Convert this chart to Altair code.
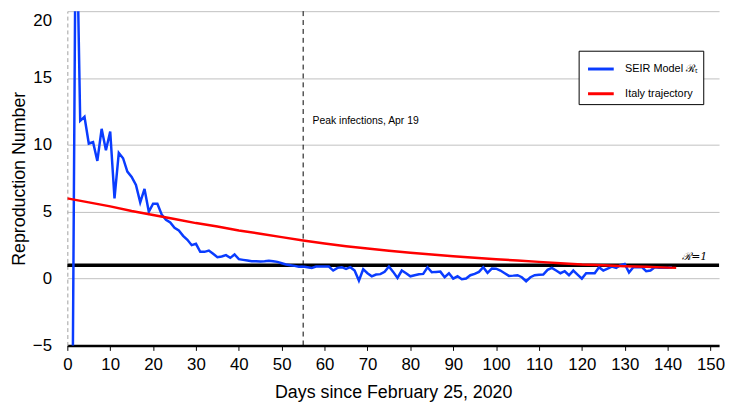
import altair as alt
import pandas as pd

FONT = "Liberation Sans, Arial, sans-serif"

# Series names / colours
series_names = ["SEIR Model \u211B\u209C", "Italy trajectory"]
series_colors = ["#0a3cff", "#ff0000"]

# SEIR model R_t, one value per day starting at day 1
r_blue = [
    -20, 30, 11.8, 12.1, 10.1, 10.2, 8.8, 11.2, 9.6, 11.0,
    6.0, 9.4, 9.0, 8.0, 7.6, 7.0, 5.7, 6.7, 5.0, 5.6,
    5.6, 4.8, 4.4, 4.2, 3.8, 3.6, 3.2, 2.9, 2.5, 2.6,
    2.0, 2.0, 2.1, 1.85, 1.6, 1.65, 1.75, 1.55, 1.8, 1.45,
    1.4, 1.35, 1.3, 1.3, 1.28, 1.3, 1.33, 1.3, 1.25, 1.15,
    1.05, 1.0, 0.95, 0.88, 0.9, 0.85, 0.8, 0.9, 0.9, 0.9,
    0.9, 0.6, 0.8, 0.85, 0.73, 0.85, 0.6, -0.15, 0.7, 0.4,
    0.17, 0.3, 0.33, 0.5, 0.9, 0.5, 0.05, 0.6, 0.4, 0.17,
    0.25, 0.32, 0.35, 0.85, 0.47, 0.5, 0.52, 0.1, 0.4, 0.0,
    0.17, -0.05, 0.0, 0.25, 0.35, 0.5, 0.85, 0.43, 0.75, 0.74,
    0.6, 0.4, 0.2, 0.22, 0.25, 0.1, -0.2, 0.1, 0.25, 0.28,
    0.3, 0.65, 0.8, 0.6, 0.4, 0.55, 0.25, 0.6, 0.3, 0.0,
    0.4, 0.4, 0.4, 0.85, 0.6, 0.75, 0.9, 0.8, 1.0, 1.1,
    0.45, 0.85, 0.85, 0.85, 0.55, 0.6, 0.85, 0.8, 0.8, 0.8,
    0.85,
]
days_blue = list(range(1, len(r_blue) + 1))

# Italy trajectory
days_red = [0, 5, 10, 15, 20, 25, 30, 35, 40, 45, 50, 55, 60, 65, 70, 75,
            80, 85, 90, 95, 100, 105, 110, 115, 120, 125, 130, 135, 140, 142]
r_red = [6.0, 5.7, 5.4, 5.05, 4.75, 4.45, 4.15, 3.9, 3.6, 3.35, 3.1, 2.85,
         2.62, 2.42, 2.25, 2.08, 1.93, 1.8, 1.67, 1.55, 1.45, 1.35, 1.25,
         1.15, 1.05, 1.0, 0.93, 0.88, 0.82, 0.8]

# Reference lines and annotations
r_one = [1]
peak_day = [55]
peak_text = ["Peak infections, Apr 19"]
peak_text_pos = [(57.2, 11.8)]
r1_text = ["\u211B=1"]
r1_text_pos = [(146.3, 1)]

x_ticks = list(range(0, 151, 10))
y_ticks = [-5, 0, 5, 10, 15, 20]

df_blue = pd.DataFrame({"day": days_blue, "R": r_blue, "series": series_names[0]})
df_red = pd.DataFrame({"day": days_red, "R": r_red, "series": series_names[1]})
df_one = pd.DataFrame({"R": r_one})
df_peak = pd.DataFrame({"day": peak_day})
df_peak_text = pd.DataFrame({"day": [p[0] for p in peak_text_pos],
                             "R": [p[1] for p in peak_text_pos],
                             "label": peak_text})
df_r1_text = pd.DataFrame({"day": [p[0] for p in r1_text_pos],
                           "R": [p[1] for p in r1_text_pos],
                           "label": r1_text})

x_scale = alt.Scale(domain=[0, 152], nice=False, zero=False)
y_scale = alt.Scale(domain=[-5, 20], nice=False, zero=False)
color_scale = alt.Scale(domain=series_names, range=series_colors)

x_axis = alt.Axis(
    values=x_ticks, title="Days since February 25, 2020", grid=False,
    domainColor="black", domainWidth=2.5, tickColor="black", tickSize=5,
    labelPadding=6, titlePadding=12, labelFontSize=17, titleFontSize=18,
    labelFont=FONT, titleFont=FONT, titleFontWeight="normal",
    labelColor="black", titleColor="black", labelFlush=False,
)
y_axis = alt.Axis(
    values=y_ticks, title="Reproduction Number", grid=True,
    gridColor="#c0c0c0", gridWidth=1, domainColor="#a0a0a0",
    domainDash=[4, 3], domainWidth=1, ticks=False, labelPadding=16,
    titlePadding=4, labelFontSize=17, titleFontSize=18, labelFont=FONT,
    titleFont=FONT, titleFontWeight="normal", labelColor="black",
    titleColor="black",
    labelOffset={"condition": {"test": "datum.value == 20", "value": 9}, "value": 0},
)

legend = alt.Legend(
    title=None, orient="none", legendX=517, legendY=40,
    symbolType="stroke", symbolSize=676, symbolStrokeWidth=3,
    symbolOffset=4, labelOffset=10, labelFont=FONT, labelFontSize=11,
    labelColor="black", padding=4, rowPadding=4, strokeColor="black",
    fillColor="white", labelLimit=300,
)

X = alt.X("day:Q", scale=x_scale, axis=x_axis)
Y = alt.Y("R:Q", scale=y_scale, axis=y_axis)

one_rule = alt.Chart(df_one).mark_rule(color="black", strokeWidth=3.5).encode(
    y=alt.Y("R:Q", scale=y_scale, axis=y_axis)
)

blue = alt.Chart(df_blue).mark_line(strokeWidth=2.5, clip=True).encode(
    x=X, y=Y,
    color=alt.Color("series:N", scale=color_scale, legend=legend),
)

red = alt.Chart(df_red).mark_line(strokeWidth=2.5, clip=True).encode(
    x=X, y=Y,
    color=alt.Color("series:N", scale=color_scale, legend=legend),
)

peak_rule = alt.Chart(df_peak).mark_rule(
    color="black", strokeWidth=1, strokeDash=[5, 4]
).encode(x=alt.X("day:Q", scale=x_scale, axis=x_axis))

peak_label = alt.Chart(df_peak_text).mark_text(
    align="left", baseline="middle", font=FONT, fontSize=10.5, color="black"
).encode(x=X, y=Y, text="label:N")

r1_label = alt.Chart(df_r1_text).mark_text(
    align="center", baseline="bottom", dy=-3, font="DejaVu Serif",
    fontStyle="italic", fontSize=11, color="black"
).encode(x=X, y=Y, text="label:N")

chart = alt.layer(
    one_rule, blue, red, peak_rule, peak_label, r1_label
).properties(
    width=659, height=338,
    padding={"left": 60, "top": 1, "right": 6, "bottom": 55},
    autosize=alt.AutoSizeParams(type="none"),
).configure_view(stroke=None)

chart.save("out.html", embed_options={"renderer": "svg", "actions": False})
